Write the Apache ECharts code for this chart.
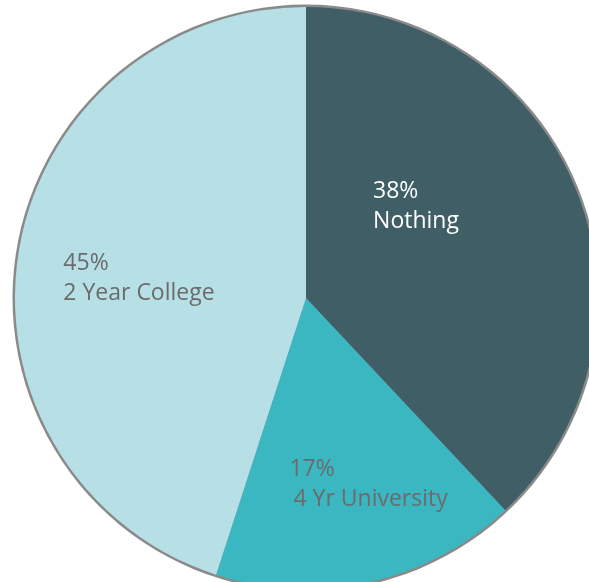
<!DOCTYPE html>
<html>
<head>
<meta charset="utf-8">
<script src="https://cdn.jsdelivr.net/npm/echarts@6/dist/echarts.min.js"></script>
<style>
  html, body { margin: 0; padding: 0; background: #ffffff; }
  #chart { width: 589px; height: 582px; }
</style>
</head>
<body>
<div id="chart"></div>
<script>
// Post-graduation paths, share of students (%)
const categories = ['Nothing', '4 Yr University', '2 Year College'];
const shares = [38, 17, 45];

// Slice fills and label colours
const sliceColors = ['#3f5e66', '#3bb7c2', '#b6e0e6'];
const labelColors = ['#ffffff', '#6b6b6b', '#6b6b6b'];
// Nudges that move each label block from its default inside spot
const labelNudges = [[-71, -37], [-49, 42], [-96, 4]];

const PIE_CENTER = [306, 298];
const PIE_RADIUS = 291;
const FONT_SIZE = 23;

const chart = echarts.init(document.getElementById('chart'), null, { renderer: 'canvas' });

const sliceData = categories.map((name, i) => {
  const base = { color: labelColors[i], fontSize: FONT_SIZE, lineHeight: 30, align: 'left', fontFamily: 'Open Sans' };
  return {
    name: name,
    value: shares[i],
    itemStyle: { color: sliceColors[i] },
    label: {
      formatter: '{p|{c}%}\n{' + (i === 1 ? 'n2' : 'n') + '|{b}}',
      rich: {
        p: base,
        n: base,
        n2: Object.assign({}, base, { padding: [0, 0, 0, 4] })
      }
    }
  };
});

const total = shares.reduce((a, b) => a + b, 0);

chart.setOption({
  animation: false,
  backgroundColor: '#ffffff',
  series: [
    {
      // thin grey rim drawn just outside the slices
      type: 'pie',
      silent: true,
      center: PIE_CENTER,
      radius: [0, PIE_RADIUS + 2.5],
      label: { show: false },
      labelLine: { show: false },
      itemStyle: { color: '#8a8a8a' },
      data: [{ value: total, name: 'rim' }]
    },
    {
      type: 'pie',
      center: PIE_CENTER,
      radius: [0, PIE_RADIUS],
      startAngle: 90,
      clockwise: true,
      avoidLabelOverlap: false,
      label: { show: true, position: 'inside' },
      labelLine: { show: false },
      labelLayout: function (params) {
        const nudge = labelNudges[params.dataIndex];
        return { dx: nudge[0], dy: nudge[1], align: 'left', verticalAlign: 'middle' };
      },
      emphasis: { disabled: true },
      itemStyle: { borderWidth: 0 },
      data: sliceData
    }
  ]
});
</script>
</body>
</html>
